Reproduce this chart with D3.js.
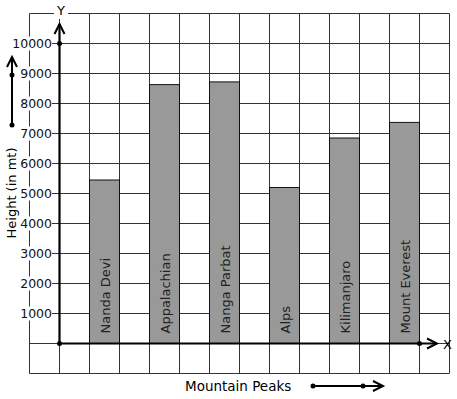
<!DOCTYPE html>
<html>
<head>
<meta charset="utf-8">
<script src="https://cdn.jsdelivr.net/npm/d3@7"></script>
<style>
  body { margin: 0; background: #fff; }
  svg { display: block; font-family: "DejaVu Sans", sans-serif; }
</style>
</head>
<body>
<div id="wrap"></div>
<script>
// data
var peaks = ["Nanda Devi", "Appalachian", "Nanga Parbat", "Alps", "Kilimanjaro", "Mount Everest"];
var heights = [5450, 8630, 8720, 5200, 6850, 7370];
var cols = [1, 3, 5, 7, 9, 11];
var yTicks = [1000, 2000, 3000, 4000, 5000, 6000, 7000, 8000, 9000, 10000];

var W = 457, H = 399;

var svg = d3.select("#wrap").append("svg")
    .attr("width", W)
    .attr("height", H);

// one grid cell = one column / 1000 mt
var x = d3.scaleLinear().domain([-1, 13]).range([29.5, 449.5]);
var y = d3.scaleLinear().domain([0, 10000]).range([343.5, 43.5]);

var grid = svg.append("g").attr("stroke", "#333").attr("stroke-width", 1);

grid.selectAll("line.v")
    .data(d3.range(-1, 14))
    .enter().append("line")
    .attr("x1", function(d) { return x(d); })
    .attr("x2", function(d) { return x(d); })
    .attr("y1", y(11000))
    .attr("y2", y(-1000));

grid.selectAll("line.h")
    .data(d3.range(-1000, 12000, 1000))
    .enter().append("line")
    .attr("x1", x(-1))
    .attr("x2", x(13))
    .attr("y1", function(d) { return y(d); })
    .attr("y2", function(d) { return y(d); });

// bars
var bars = svg.append("g");
bars.selectAll("rect")
    .data(heights)
    .enter().append("rect")
    .attr("x", function(d, i) { return x(cols[i]); })
    .attr("width", x(1) - x(0))
    .attr("y", function(d) { return y(d); })
    .attr("height", function(d) { return y(0) - y(d); })
    .attr("fill", "#999")
    .attr("stroke", "#111")
    .attr("stroke-width", 1);

bars.selectAll("text")
    .data(peaks)
    .enter().append("text")
    .attr("transform", function(d, i) {
        return "translate(" + (x(cols[i] + 0.5) + 5) + "," + (y(0) - 10) + ") rotate(-90)";
    })
    .attr("font-size", 13)
    .attr("fill", "#222")
    .text(function(d) { return d; });

// tick labels with white boxes over the grid
var tl = svg.append("g").selectAll("g")
    .data(yTicks)
    .enter().append("g")
    .attr("transform", function(d) { return "translate(52," + y(d) + ")"; });
tl.append("rect")
    .attr("x", -39).attr("y", -7)
    .attr("width", 39).attr("height", 14)
    .attr("fill", "#fff");
tl.append("text")
    .attr("text-anchor", "end")
    .attr("dy", "0.35em")
    .attr("font-size", 12.5)
    .attr("fill", "#111")
    .text(function(d) { return d; });

// axes
var ax = svg.append("g").attr("stroke", "#000").attr("fill", "none");
ax.append("line")
    .attr("x1", x(0)).attr("x2", x(0))
    .attr("y1", y(0)).attr("y2", 24)
    .attr("stroke-width", 2.2);
ax.append("path")
    .attr("d", "M" + (x(0) - 5) + ",34L" + x(0) + ",24L" + (x(0) + 5) + ",34")
    .attr("stroke-width", 2);
ax.append("line")
    .attr("x1", x(0)).attr("x2", 437)
    .attr("y1", y(0)).attr("y2", y(0))
    .attr("stroke-width", 2.2);
ax.append("path")
    .attr("d", "M427," + (y(0) - 5) + "L437," + y(0) + "L427," + (y(0) + 5))
    .attr("stroke-width", 2);

var dots = [[x(0), y(0)], [x(0), y(10000)], [x(12), y(0)], [12, 75], [12, 125], [313, 386], [363, 386]];
svg.append("g").selectAll("circle")
    .data(dots)
    .enter().append("circle")
    .attr("cx", function(d) { return d[0]; })
    .attr("cy", function(d) { return d[1]; })
    .attr("r", 2.5)
    .attr("fill", "#000");

// side arrows
var deco = svg.append("g").attr("stroke", "#000").attr("fill", "none").attr("stroke-width", 2);
deco.append("line").attr("x1", 12).attr("x2", 12).attr("y1", 125).attr("y2", 58);
deco.append("path").attr("d", "M7,67L12,57L17,67");
deco.append("line").attr("x1", 313).attr("x2", 383).attr("y1", 386).attr("y2", 386);
deco.append("path").attr("d", "M373,381L383,386L373,391");

// axis names
svg.append("rect").attr("x", 54).attr("y", 8).attr("width", 14).attr("height", 11).attr("fill", "#fff");
svg.append("text")
    .attr("x", 61).attr("y", 15)
    .attr("text-anchor", "middle")
    .attr("font-size", 13)
    .text("Y");
svg.append("text")
    .attr("x", 443).attr("y", y(0) + 5)
    .attr("font-size", 13)
    .text("X");
svg.append("text")
    .attr("x", 185).attr("y", 391)
    .attr("font-size", 13.5)
    .text("Mountain Peaks");
svg.append("text")
    .attr("transform", "translate(16,193) rotate(-90)")
    .attr("text-anchor", "middle")
    .attr("font-size", 13)
    .text("Height (in mt)");
</script>
</body>
</html>
